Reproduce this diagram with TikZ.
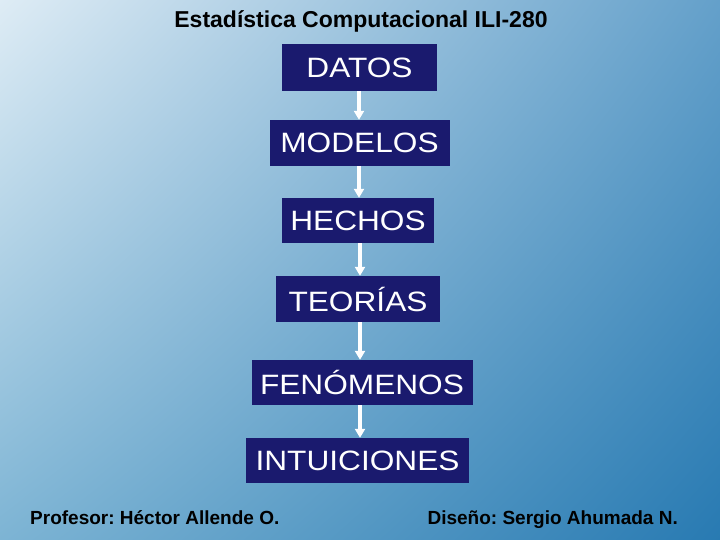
\documentclass[tikz,border=0pt]{standalone}
\usepackage{fontspec}
\setmainfont{Liberation Sans}
\usetikzlibrary{arrows.meta,shadings}
\frenchspacing
\definecolor{boxblue}{RGB}{26,26,110}
\definecolor{bgTL}{RGB}{222,236,245}
\definecolor{bgTR}{RGB}{100,160,202}
\definecolor{bgBL}{RGB}{125,180,212}
\definecolor{bgBR}{RGB}{40,122,178}
\newcommand{\widetxt}[1]{\scalebox{1.13}[1]{#1}}
\tikzset{
  stage/.style={fill=boxblue, text=white, inner sep=0pt, font=\fontsize{28}{30}\selectfont, anchor=center},
  flow/.style={draw=white, line width=3.5pt, -{Triangle[width=10pt,length=9pt]}},
  titletext/.style={font=\bfseries\fontsize{23}{25}\selectfont, text=black, inner sep=0pt},
  foottext/.style={font=\bfseries\fontsize{19}{21}\selectfont, text=black, inner sep=0pt}
}
\begin{document}
\begin{tikzpicture}[x=1pt,y=-1pt]
\useasboundingbox (0,0) rectangle (720,540);
\shade[upper left=bgTL, upper right=bgTR, lower left=bgBL, lower right=bgBR] (0,0) rectangle (720,540);
\node[titletext, anchor=base] (title) at (361,27.7) {Estadística Computacional ILI-280};
\node[stage, minimum width=155pt, minimum height=47pt] (datos) at (359.5,67.5) {\widetxt{DATOS}};
\node[stage, minimum width=180pt, minimum height=46pt] (modelos) at (359.5,143) {\widetxt{MODELOS}};
\node[stage, minimum width=152pt, minimum height=45pt] (hechos) at (358,220.5) {\widetxt{HECHOS}};
\node[stage, minimum width=164pt, minimum height=46pt] (teorias) at (358,299) {\widetxt{TEORÍAS}};
\node[stage, minimum width=221pt, minimum height=45pt] (fenomenos) at (362,382.5) {\widetxt{FENÓMENOS}};
\node[stage, minimum width=223pt, minimum height=45pt] (intuiciones) at (357.5,460.5) {\widetxt{INTUICIONES}};
\draw[flow] (datos.south -| 359,0) -- (modelos.north -| 359,0);
\draw[flow] (modelos.south -| 359,0) -- (hechos.north -| 359,0);
\draw[flow] (hechos.south -| 360,0) -- (teorias.north -| 360,0);
\draw[flow] (teorias.south -| 360,0) -- (fenomenos.north -| 360,0);
\draw[flow] (fenomenos.south -| 360,0) -- (intuiciones.north -| 360,0);
\node[foottext, anchor=base west] (prof) at (30,524) {Profesor: Héctor Allende O.};
\node[foottext, anchor=base east] (dis) at (678,524) {Diseño: Sergio Ahumada N.};
\end{tikzpicture}
\end{document}
